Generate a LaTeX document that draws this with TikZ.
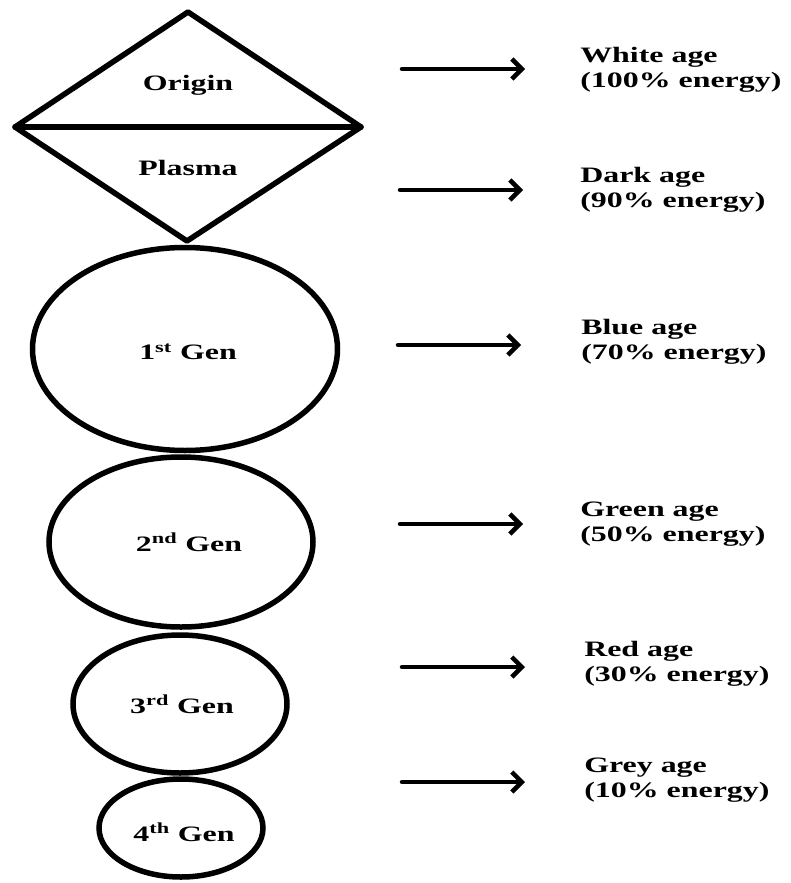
\documentclass[tikz,border=0pt]{standalone}
\usepackage{fontspec}
\setmainfont{Liberation Serif}
\usetikzlibrary{shapes.geometric,arrows.meta}
\tikzset{
  shapeline/.style={line width=5.5pt, line join=round, line cap=round},
  gen/.style={ellipse, draw, line width=5.5pt, inner sep=0pt},
  lbl/.style={font=\fontsize{22}{25}\selectfont\bfseries, xscale=1.45, inner sep=0pt},
  agelbl/.style={lbl, anchor=west, align=left},
  arr/.style={line width=4.5pt, line cap=round, -{Straight Barb[length=10pt,width=20pt,line width=4.5pt]}}
}
\begin{document}
\begin{tikzpicture}[x=1pt,y=-1pt]
\useasboundingbox (0,0) rectangle (790,883);
\fill[white] (0,0) rectangle (790,883);
% diamond
\coordinate (dtop) at (188,12);
\coordinate (dleft) at (15,127);
\coordinate (dright) at (361,127);
\coordinate (dbot) at (187,241);
\draw[shapeline] (dtop) -- (dright) -- (dbot) -- (dleft) -- cycle;
\draw[shapeline] (dleft) -- (dright);
\node[lbl] (origin) at (188,85) {Origin};
\node[lbl] (plasma) at (188,168) {Plasma};
% generations
\node[gen, minimum width=305pt, minimum height=203pt] (g1) at (185,349) {};
\node[gen, minimum width=264pt, minimum height=170pt] (g2) at (181,542) {};
\node[gen, minimum width=214pt, minimum height=138pt] (g3) at (180,704) {};
\node[gen, minimum width=164pt, minimum height=98pt] (g4) at (181,828) {};
\node[lbl] (t1) at (188,352) {1\textsuperscript{st} Gen};
\node[lbl] (t2) at (189,542) {2\textsuperscript{nd} Gen};
\node[lbl] (t3) at (182,704) {3\textsuperscript{rd} Gen};
\node[lbl] (t4) at (184,832) {4\textsuperscript{th} Gen};
% arrows
\coordinate (s1) at (402,69);  \coordinate (e1) at (525,69);
\coordinate (s2) at (400,190); \coordinate (e2) at (523,190);
\coordinate (s3) at (398,345); \coordinate (e3) at (521,345);
\coordinate (s4) at (400,524); \coordinate (e4) at (523,524);
\coordinate (s5) at (402,667); \coordinate (e5) at (525,667);
\coordinate (s6) at (402,782); \coordinate (e6) at (525,782);
\foreach \i in {1,...,6} { \draw[arr] (s\i) -- (e\i); }
% labels
\node[agelbl] (l1) at (580,70) {White age\\(100\% energy)};
\node[agelbl] (l2) at (580,190) {Dark age\\(90\% energy)};
\node[agelbl] (l3) at (581,342) {Blue age\\(70\% energy)};
\node[agelbl] (l4) at (580,524) {Green age\\(50\% energy)};
\node[agelbl] (l5) at (584,664) {Red age\\(30\% energy)};
\node[agelbl] (l6) at (584,780) {Grey age\\(10\% energy)};
\end{tikzpicture}
\end{document}
